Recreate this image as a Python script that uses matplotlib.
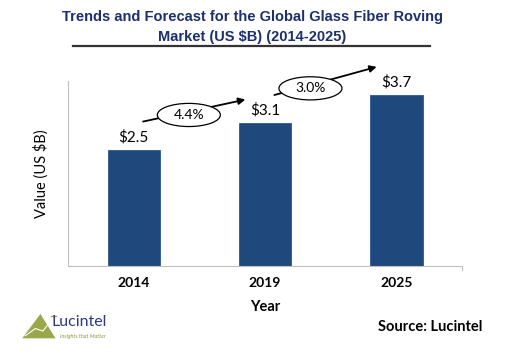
import matplotlib.pyplot as plt
from matplotlib.patches import Polygon, Ellipse

# chart data
years = ['2014', '2019', '2025']
values = [2.5, 3.1, 3.7]
value_labels = ['$2.5', '$3.1', '$3.7']
growth_labels = ['4.4%', '3.0%']

bar_color = '#1F497D'
title_color = '#1C2F6E'
font = 'Lato'

fig = plt.figure(figsize=(5.05, 3.63), dpi=100)
ax = fig.add_axes([0.135, 0.267, 0.78, 0.51])

x = range(len(years))
ax.bar(x, values, width=0.4, color=bar_color, edgecolor='#2E5A8C', linewidth=0.6)

ax.set_xlim(-0.5, 2.5)
ax.set_ylim(0, 4)
ax.set_yticks([])
ax.set_xticks(list(x))
ax.set_xticklabels(years, fontsize=10, fontweight='bold', family=font)
ax.tick_params(axis='x', length=0, pad=8)
for side in ['top', 'right']:
    ax.spines[side].set_visible(False)
ax.spines['left'].set_color('#BFBFBF')
ax.spines['bottom'].set_color('#BFBFBF')
# small tick at the right end of the x axis
ax.plot([2.5, 2.5], [0, -0.08], color='#BFBFBF', lw=0.8, clip_on=False)

ax.set_xlabel('Year', fontsize=10.5, fontweight='bold', family=font, labelpad=8)
ax.set_ylabel('Value (US $B)', fontsize=10.5, family=font, labelpad=14)

# value labels above bars
for i, (v, lab) in enumerate(zip(values, value_labels)):
    ax.text(i, v + 0.12, lab, ha='center', va='bottom', fontsize=11, family=font)

# growth arrows with ellipse labels
offsets = [(0.61, 0.51), (0.58, 0.62)]
for i, lab in enumerate(growth_labels):
    x0, y0 = i + 0.05, values[i] + offsets[i][0]
    x1, y1 = i + 0.87, values[i + 1] + offsets[i][1]
    ax.annotate('', xy=(x1, y1), xytext=(x0, y0),
                arrowprops=dict(arrowstyle='-|>', color='black', lw=1.3, mutation_scale=10),
                annotation_clip=False)
    t = 0.45 if i == 0 else 0.36
    cx, cy = x0 + t * (x1 - x0), y0 + t * (y1 - y0) - 0.07
    ax.add_patch(Ellipse((cx, cy), 0.48, 0.5, fc='white', ec='black', lw=0.9,
                         clip_on=False, zorder=3))
    ax.text(cx, cy, lab, ha='center', va='center', fontsize=10, family=font,
            clip_on=False, zorder=4)

# title and underline
fig.text(0.5, 0.952, 'Trends and Forecast for the Global Glass Fiber Roving', ha='center',
         va='center', fontsize=10.5, fontweight='bold', color=title_color, family='Liberation Sans')
fig.text(0.5, 0.897, 'Market (US $B) (2014-2025)', ha='center', va='center',
         fontsize=10.5, fontweight='bold', color=title_color, family='Liberation Sans')
fig.add_artist(plt.Line2D([0.145, 0.852], [0.872, 0.872], color='#333333', lw=1.6))

# source
fig.text(0.955, 0.1, 'Source: Lucintel', ha='right', va='center', fontsize=10.5,
         fontweight='bold', family=font)

# logo
fig.add_artist(Polygon([[0.044, 0.068], [0.08, 0.135], [0.11, 0.068]], closed=True,
                       fc='#9AA84A', ec='none', transform=fig.transFigure))
fig.add_artist(plt.Line2D([0.05, 0.07, 0.085, 0.1, 0.11], [0.075, 0.095, 0.088, 0.115, 0.13],
                          color='white', lw=0.8))
fig.add_artist(plt.Line2D([0.1, 0.11], [0.13, 0.13], color='#9AA84A', lw=1.0))
fig.text(0.102, 0.112, 'Lucintel', ha='left', va='center', fontsize=11.5,
         color='#2E3A80', family=font)
fig.text(0.118, 0.074, 'Insights that Matter', ha='left', va='center', fontsize=4,
         style='italic', color='#8A9A40', family=font)

fig.savefig('out.png', dpi=100)
